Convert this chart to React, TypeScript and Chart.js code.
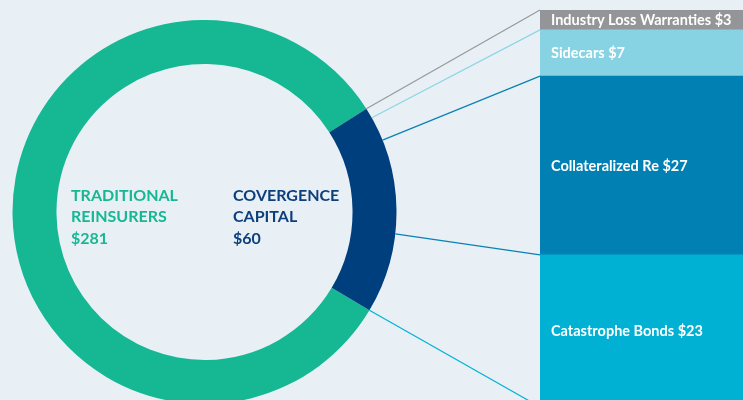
import React, { useEffect, useRef } from "react";
import { Chart, registerables } from "chart.js";

Chart.register(...registerables);

// ---- data ----
const ringCategories = ["Traditional Reinsurers", "Convergence Capital"];
const ringValues = [281, 60];
const ringLabelLines = [
  ["TRADITIONAL", "REINSURERS", "$281"],
  ["COVERGENCE", "CAPITAL", "$60"],
];

const splitCategories = ["Industry Loss Warranties", "Sidecars", "Collateralized Re", "Catastrophe Bonds"];
const splitValues = [3, 7, 27, 23];
const splitLabels = ["Industry Loss Warranties $3", "Sidecars $7", "Collateralized Re $27", "Catastrophe Bonds $23"];

// ---- styles ----
const BG = "#e8f0f6";
const ringColors = ["#15b893", "#003f7d"];
const ringTextColors = ["#17b793", "#0c3f7c"];
const splitColors = ["#939598", "#87d3e3", "#0080b3", "#00b1d4"];
const connectorColors = ["#97999c", "#8dd5e5", "#0a80b4", "#0a80b4", "#00b1d4"];

const RING_LEFT = 12;
const RING_TOP = 20;
const RING_W = 385;
const RING_H = 384;

export default function App() {
  const ringRef = useRef<HTMLCanvasElement | null>(null);
  const barRef = useRef<HTMLCanvasElement | null>(null);

  useEffect(() => {
    if (!ringRef.current || !barRef.current) return;

    const ringTextPlugin = {
      id: "ringText",
      afterDatasetsDraw(chart: any) {
        const arc = chart.getDatasetMeta(0).data[0];
        if (!arc) return;
        const cx = arc.x;
        const cy = arc.y;
        const ctx = chart.ctx;
        ctx.save();
        ctx.font = "bold 16px Lato";
        ctx.textAlign = "left";
        ctx.textBaseline = "alphabetic";
        const xs = [cx - 133.5, cx + 28.5];
        ringLabelLines.forEach((lines, i) => {
          ctx.fillStyle = ringTextColors[i];
          lines.forEach((t, j) => {
            ctx.fillText(t, xs[i], cy - 11.3 + j * 21.4);
          });
        });
        ctx.restore();
      },
    };

    const ring = new Chart(ringRef.current, {
      type: "doughnut",
      data: {
        labels: ringCategories,
        datasets: [
          {
            data: ringValues,
            backgroundColor: ringColors,
            borderWidth: 0,
          },
        ],
      },
      options: {
        responsive: false,
        animation: false,
        events: [],
        cutout: "77.1%",
        rotation: 120.8,
        layout: { padding: 0 },
        plugins: { legend: { display: false }, tooltip: { enabled: false } },
      },
      plugins: [ringTextPlugin],
    });

    const total = splitValues.reduce((a, b) => a + b, 0);

    const connectorPlugin = {
      id: "connectors",
      beforeDatasetsDraw(chart: any) {
        const arc: any = ring.getDatasetMeta(0).data[1];
        if (!arc) return;
        const p = arc.getProps(["x", "y", "startAngle", "endAngle", "outerRadius"], true);
        const ys = chart.scales.y;
        const bar: any = chart.getDatasetMeta(0).data[0];
        const left = bar.x - bar.width / 2;
        const ctx = chart.ctx;
        ctx.save();
        ctx.lineWidth = 1.2;
        let cum = 0;
        for (let i = 0; i <= splitValues.length; i++) {
          const a = p.startAngle + (cum / total) * (p.endAngle - p.startAngle);
          const sx = RING_LEFT + p.x + p.outerRadius * Math.cos(a);
          const sy = RING_TOP + p.y + p.outerRadius * Math.sin(a);
          const ey = ys.getPixelForValue(total - cum);
          ctx.strokeStyle = connectorColors[i];
          ctx.beginPath();
          ctx.moveTo(sx, sy);
          ctx.lineTo(left, ey);
          ctx.stroke();
          if (i < splitValues.length) cum += splitValues[i];
        }
        ctx.restore();
      },
      afterDatasetsDraw(chart: any) {
        const ys = chart.scales.y;
        const bar: any = chart.getDatasetMeta(0).data[0];
        const left = bar.x - bar.width / 2;
        const ctx = chart.ctx;
        ctx.save();
        ctx.font = "bold 14.5px Lato";
        ctx.fillStyle = "#ffffff";
        ctx.textAlign = "left";
        ctx.textBaseline = "middle";
        let cum = 0;
        splitValues.forEach((v, i) => {
          const top = ys.getPixelForValue(total - cum);
          const bottom = ys.getPixelForValue(total - cum - v);
          ctx.fillText(splitLabels[i], left + 11, (top + bottom) / 2 + 0.5);
          cum += v;
        });
        ctx.restore();
      },
    };

    // stacked bar: first dataset sits at bottom, so reverse
    const order = splitValues.map((_, i) => i).reverse();
    const bars = new Chart(barRef.current, {
      type: "bar",
      data: {
        labels: ["Convergence Capital"],
        datasets: order.map((i) => ({
          label: splitCategories[i],
          data: [splitValues[i]],
          backgroundColor: splitColors[i],
          borderWidth: 0,
          barPercentage: 1,
          categoryPercentage: 1,
        })),
      },
      options: {
        responsive: false,
        animation: false,
        events: [],
        layout: { padding: { left: 540, top: 10, right: 0, bottom: 0 } },
        scales: {
          x: { display: false, stacked: true },
          y: { display: false, stacked: true, min: 0, max: total },
        },
        plugins: { legend: { display: false }, tooltip: { enabled: false } },
      },
      plugins: [connectorPlugin],
    });

    return () => {
      bars.destroy();
      ring.destroy();
    };
  }, []);

  return (
    <div
      style={{
        position: "fixed",
        left: 0,
        top: 0,
        width: 743,
        height: 400,
        overflow: "hidden",
        background: BG,
      }}
    >
      <canvas
        ref={ringRef}
        width={RING_W}
        height={RING_H}
        style={{ position: "absolute", left: RING_LEFT, top: RING_TOP, width: RING_W, height: RING_H }}
      />
      <canvas
        ref={barRef}
        width={743}
        height={407}
        style={{ position: "absolute", left: 0, top: 0, width: 743, height: 407 }}
      />
    </div>
  );
}
